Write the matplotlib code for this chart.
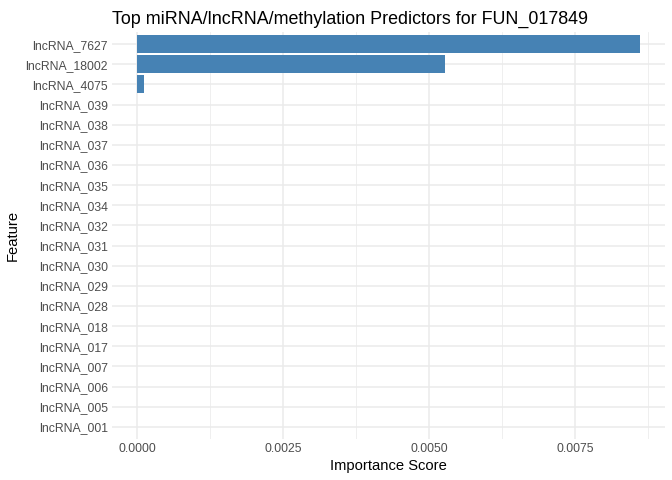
import numpy as np
from matplotlib import pyplot as plt

features = ['lncRNA_7627', 'lncRNA_18002', 'lncRNA_4075', 'lncRNA_039', 'lncRNA_038',
            'lncRNA_037', 'lncRNA_036', 'lncRNA_035', 'lncRNA_034', 'lncRNA_032',
            'lncRNA_031', 'lncRNA_030', 'lncRNA_029', 'lncRNA_028', 'lncRNA_018',
            'lncRNA_017', 'lncRNA_007', 'lncRNA_006', 'lncRNA_005', 'lncRNA_001']
importance = [0.00861, 0.00527, 0.00012, 0, 0, 0, 0, 0, 0, 0,
              0, 0, 0, 0, 0, 0, 0, 0, 0, 0]
xticks = [0.0, 0.0025, 0.0050, 0.0075]
xtick_labels = ['0.0000', '0.0025', '0.0050', '0.0075']

plt.rcParams['font.family'] = ['Liberation Sans', 'DejaVu Sans']

fig = plt.figure(figsize=(6.72, 4.8), dpi=100)
ax = fig.add_axes([112 / 672, 1 - 439 / 480, (665 - 112) / 672, (439 - 32) / 480])

n = len(features)
ypos = np.arange(n)[::-1]
ax.barh(ypos, importance, height=0.9, color='#4682B4', zorder=3)

xmax = max(importance)
pad = 0.05 * xmax
ax.set_xlim(-pad, xmax + pad)
ax.set_ylim(-0.6, n - 1 + 0.6)

ax.set_xticks(xticks)
ax.set_xticklabels(xtick_labels)
ax.set_xticks([0.00125, 0.00375, 0.00625, 0.00875], minor=True)
ax.set_yticks(ypos)
ax.set_yticklabels(features)

ax.grid(True, which='major', color='#EBEBEB', linewidth=1.1, zorder=0)
ax.grid(True, which='minor', axis='x', color='#EBEBEB', linewidth=0.55, zorder=0)
ax.set_axisbelow(True)
for s in ax.spines.values():
    s.set_visible(False)
ax.tick_params(which='both', length=0, labelsize=8.8, labelcolor='#4D4D4D', pad=3)

ax.set_xlabel('Importance Score', fontsize=10.6, labelpad=3)
ax.set_ylabel('Feature', fontsize=10.6, labelpad=4)
ax.set_title('Top miRNA/lncRNA/methylation Predictors for FUN_017849',
             fontsize=12.9, loc='left', pad=6)

plt.savefig('out.png', dpi=100)
